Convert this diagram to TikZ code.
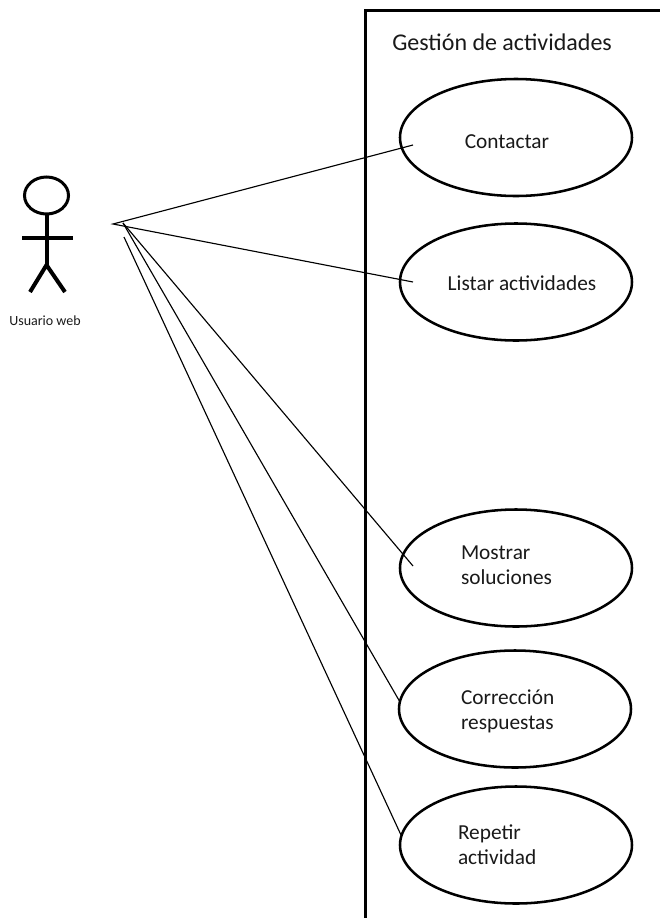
\documentclass[tikz,border=0pt]{standalone}
\usepackage{fontspec}
\setmainfont{Carlito}
\usetikzlibrary{shapes.geometric}
\tikzset{
  case/.style={draw=black,line width=1.9pt,ellipse,inner sep=0pt,outer sep=0pt,minimum width=174pt,minimum height=87.75pt},
  assoc/.style={draw=black,line width=0.85pt},
  bar/.style={draw=black,line width=3pt},
  frameline/.style={draw=black,line width=2.25pt},
  casetext/.style={inner sep=0pt,outer sep=0pt,text=black!90,font=\fontsize{16pt}{18.75pt}\selectfont,align=left},
}
\begin{document}
\begin{tikzpicture}[x=0.75pt,y=-0.75pt]
\useasboundingbox (0,0) rectangle (660,918);
% system frame
\coordinate (fb) at (365,918);
\coordinate (ft) at (365,10);
\coordinate (fr) at (660,10);
\draw[frameline] (fb) -- (ft) -- (fr);
\node[inner sep=0pt,anchor=west,text=black!90,font=\fontsize{18pt}{22pt}\selectfont] (title) at (392,42) {Gestión de actividades};
% use cases
\node[case] (c1) at (516,137.5) {};
\node[case] (c2) at (516,282) {};
\node[case] (c3) at (516,568) {};
\node[case] (c4) at (515,709) {};
\node[case] (c5) at (516,845) {};
\node[casetext] (t1) at (507,142) {Contactar};
\node[casetext] (t2) at (522,283) {Listar actividades};
\node[casetext,anchor=west] (t3) at (461,565.5) {Mostrar\\soluciones};
\node[casetext,anchor=west] (t4) at (461,711) {Corrección\\respuestas};
\node[casetext,anchor=west] (t5) at (458,845) {Repetir\\actividad};
% actor
\node[draw=black,line width=2.25pt,ellipse,inner sep=0pt,outer sep=0pt,minimum width=33pt,minimum height=27.75pt] (head) at (46.5,195.5) {};
\coordinate (hip) at (46.5,265);
\coordinate (armL) at (22,238);
\coordinate (armR) at (73,238);
\coordinate (legL) at (30,292);
\coordinate (legR) at (65,292);
\draw[bar] (head.south) -- (hip);
\draw[bar] (armL) -- (armR);
\draw[bar] (legL) -- (hip) -- (legR);
\node[inner sep=0pt,text=black!90,font=\fontsize{10.5pt}{12pt}\selectfont] (actor) at (45,321) {Usuario web};
% associations
\coordinate (a1) at (113,224);
\coordinate (a2) at (123,223);
\coordinate (a3) at (124,237);
\coordinate (e1) at (413,145);
\coordinate (e2) at (413,282);
\coordinate (e3) at (413,566);
\coordinate (e4) at (400,702);
\coordinate (e5) at (401,835);
\draw[assoc] (e1) -- (a1) -- (e2);
\draw[assoc] (a2) -- (e3);
\draw[assoc] (a2) -- (e4);
\draw[assoc] (a3) -- (e5);
\end{tikzpicture}
\end{document}
